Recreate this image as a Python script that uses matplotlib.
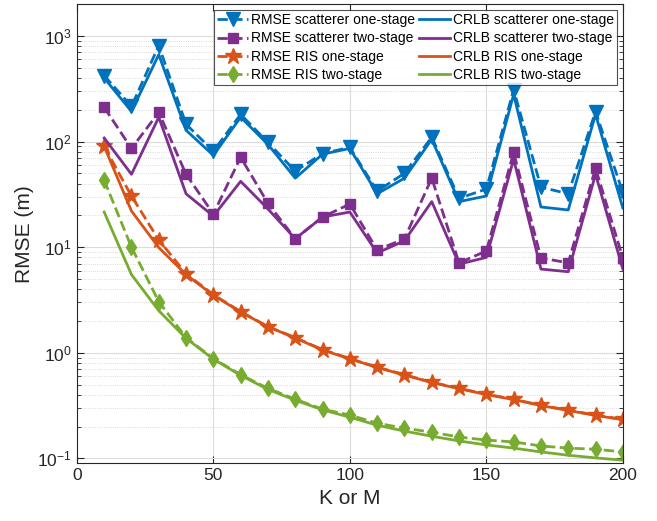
import numpy as np
import matplotlib.pyplot as plt
from matplotlib.ticker import LogLocator, NullFormatter

# --- Data: estimation error vs number of elements ---
K = [10, 20, 30, 40, 50, 60, 70, 80, 90, 100,
     110, 120, 130, 140, 150, 160, 170, 180, 190, 200]

rmse_sc_one = [422, 215, 810, 146, 81, 181, 98, 52.5, 77, 88,
               34, 50, 110, 29, 35.5, 310, 37, 32, 192, 33]
crlb_sc_one = [400, 193, 666, 128, 74, 170, 94, 45, 76, 86,
               32, 45, 105, 27, 30.5, 280, 24, 22.5, 181, 23.5]

rmse_sc_two = [211, 86, 189, 49, 20.6, 71, 26, 12, 19.3, 25.6,
               9.4, 12, 45, 7.1, 9.2, 79, 7.9, 7.1, 56, 7.9]
crlb_sc_two = [108, 49, 170, 32, 19.7, 42, 23, 12, 19.3, 21.5,
               8.8, 11.5, 27, 6.9, 8.0, 68, 6.2, 5.85, 49, 6.2]

rmse_ris_one = [90, 30.5, 11.7, 5.6, 3.55, 2.45, 1.77, 1.39, 1.07, 0.88,
                0.73, 0.62, 0.525, 0.46, 0.405, 0.363, 0.318, 0.286, 0.257, 0.234]
crlb_ris_one = [90, 22, 9.9, 5.5, 3.5, 2.43, 1.76, 1.38, 1.06, 0.875,
                0.725, 0.615, 0.522, 0.457, 0.402, 0.36, 0.316, 0.284, 0.255, 0.232]

rmse_ris_two = [43, 10, 3.05, 1.39, 0.88, 0.62, 0.46, 0.363, 0.292, 0.257,
                0.215, 0.193, 0.177, 0.159, 0.149, 0.143, 0.131, 0.125, 0.122, 0.115]
crlb_ris_two = [21.5, 5.5, 2.5, 1.37, 0.87, 0.61, 0.45, 0.355, 0.288, 0.245,
                0.206, 0.181, 0.162, 0.146, 0.134, 0.125, 0.115, 0.107, 0.101, 0.096]

# MATLAB-like colours
c_blue = "#0072BD"
c_purple = "#7E2F8E"
c_orange = "#D95319"
c_green = "#77AC30"

plt.rcParams['font.family'] = ['Liberation Sans', 'DejaVu Sans']

fig = plt.figure(figsize=(6.57, 5.21), dpi=100)
ax = fig.add_axes([0.117, 0.111, 0.831, 0.881])

lw = 2.0
ax.plot(K, rmse_sc_one, '--', color=c_blue, lw=lw, marker='v', ms=9.5, label='RMSE scatterer one-stage')
ax.plot(K, rmse_sc_two, '--', color=c_purple, lw=lw, marker='s', ms=6.5, label='RMSE scatterer two-stage')
ax.plot(K, rmse_ris_one, '--', color=c_orange, lw=lw, marker='*', ms=12, label='RMSE RIS one-stage')
ax.plot(K, rmse_ris_two, '--', color=c_green, lw=lw, marker='d', ms=8.5, label='RMSE RIS two-stage')
ax.plot(K, crlb_sc_one, '-', color=c_blue, lw=lw, label='CRLB scatterer one-stage')
ax.plot(K, crlb_sc_two, '-', color=c_purple, lw=lw, label='CRLB scatterer two-stage')
ax.plot(K, crlb_ris_one, '-', color=c_orange, lw=lw, label='CRLB RIS one-stage')
ax.plot(K, crlb_ris_two, '-', color=c_green, lw=lw, label='CRLB RIS two-stage')

# --- Axes styling ---
ax.set_yscale('log')
ax.set_xlim(0, 200)
ax.set_ylim(0.09, 2000)
ax.set_xticks([0, 50, 100, 150, 200])
ax.yaxis.set_minor_locator(LogLocator(base=10, subs=np.arange(2, 10)))
ax.yaxis.set_minor_formatter(NullFormatter())

ax.grid(True, which='major', color='#dcdcdc', lw=0.8)
ax.grid(True, which='minor', axis='y', color='#d0d0d0', lw=0.6, ls=':')
ax.set_axisbelow(True)

ax.tick_params(which='both', direction='in', top=True, right=True, labelsize=12.5, colors='#262626')
ax.tick_params(which='major', length=5)
ax.tick_params(which='minor', length=3)
for sp in ax.spines.values():
    sp.set_color('#262626')
    sp.set_linewidth(0.8)

ax.set_xlabel('K or M', fontsize=15, color='#262626')
ax.set_ylabel('RMSE (m)', fontsize=15, color='#262626', labelpad=2)

leg = ax.legend(ncol=2, loc='upper right', fontsize=10, frameon=True, fancybox=False,
                edgecolor='#262626', handlelength=2.2, handletextpad=0.2,
                columnspacing=0.35, labelspacing=0.3, borderpad=0.25,
                borderaxespad=0.4)
leg.get_frame().set_linewidth(0.8)

plt.savefig('out.png', dpi=100)
